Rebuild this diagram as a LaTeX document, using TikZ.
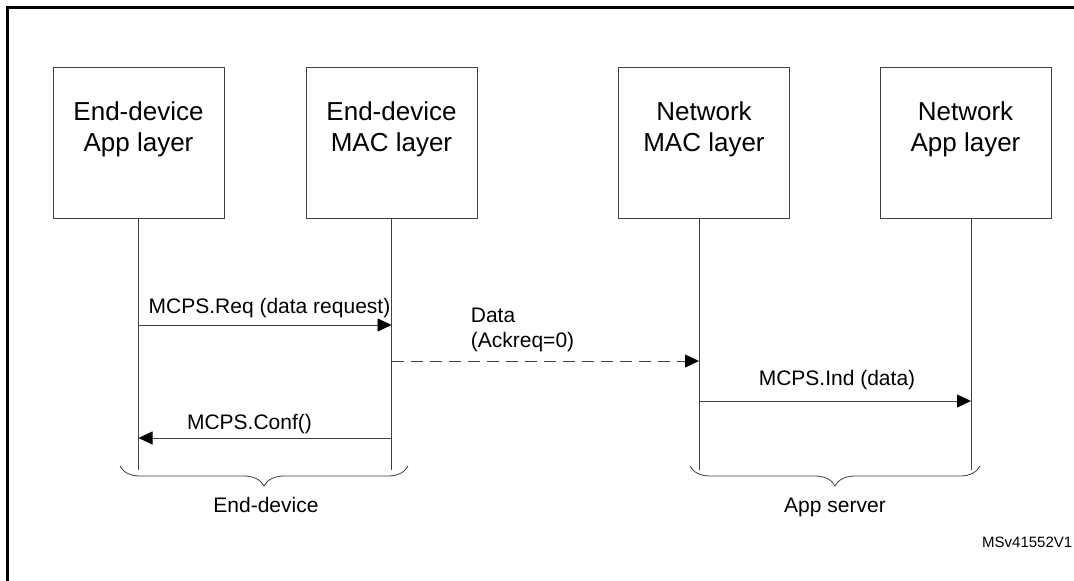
\documentclass[tikz,border=0pt]{standalone}
\usepackage{fontspec}
\setmainfont{Liberation Sans}
\usetikzlibrary{arrows.meta,decorations.pathreplacing}

\begin{document}
\begin{tikzpicture}[x=1pt, y=-1pt,
  layer/.style = {draw=black!75, line width=0.8pt, minimum width=171pt,
    minimum height=151pt, inner sep=0pt, align=center,
    font=\fontsize{26}{31}\selectfont},
  life/.style = {draw=black!75, line width=0.8pt},
  msg/.style = {draw=black!75, line width=0.8pt,
    -{Triangle[length=14pt, width=13pt, color=black]}},
  lbl/.style = {font=\fontsize{21}{25}\selectfont, inner sep=0pt, anchor=base},
  group/.style = {draw=black!75, line width=0.8pt, decorate,
    decoration={brace, mirror, amplitude=20pt}}]
  \useasboundingbox (0,0) rectangle (1074,581);
  \draw[line width=3pt] (7,581) -- (7,7) -- (1074,7);

  % the four layers
  \node[layer] (edapp) at (138.5,142.5) {End-device\\App layer\\\mbox{}};
  \node[layer] (edmac) at (391.5,142.5) {End-device\\MAC layer\\\mbox{}};
  \node[layer] (nmac)  at (704,142.5)   {Network\\MAC layer\\\mbox{}};
  \node[layer] (napp)  at (965.5,142.5) {Network\\App layer\\\mbox{}};

  % lifelines
  \coordinate (nmacl) at ([xshift=-5pt]nmac.south);
  \coordinate (nappl) at ([xshift=5.5pt]napp.south);
  \draw[life] (edapp.south) -- (edapp.south |- 0,470) coordinate (edappe);
  \draw[life] (edmac.south) -- (edmac.south |- 0,470) coordinate (edmace);
  \draw[life] (nmacl) -- (nmacl |- 0,470) coordinate (nmace);
  \draw[life] (nappl) -- (nappl |- 0,470) coordinate (nappe);

  % messages
  \draw[msg] (edapp.south |- 0,325) -- (edmac.south |- 0,325)
    node[lbl, pos=.5, xshift=4.5pt, yshift=12pt] {MCPS.Req (data request)};
  \draw[msg, dash pattern=on 12pt off 7pt] (edmac.south |- 0,361) -- (nmacl |- 0,361)
    node[lbl, pos=0, anchor=south west, align=left, xshift=79pt, yshift=9pt]
    {Data\\(Ackreq=0)};
  \draw[msg] (nmacl |- 0,401) -- (nappl |- 0,401)
    node[lbl, pos=.5, xshift=2pt, yshift=16pt] {MCPS.Ind (data)};
  \draw[msg] (edmac.south |- 0,438) -- (edapp.south |- 0,438)
    node[lbl, pos=.5, xshift=-15.5pt, yshift=9pt] {MCPS.Conf()};

  % groups
  \draw[group] (120,466) -- (408,466);
  \draw[group] (690,466) -- (980,466);
  \node[lbl] (edlbl) at (266,512) {End-device};
  \node[lbl] (aslbl) at (835,512) {App server};

  \node[font=\fontsize{15}{18}\selectfont, anchor=base west, inner sep=0pt]
    (figid) at (982,547) {MSv41552V1};
\end{tikzpicture}
\end{document}
